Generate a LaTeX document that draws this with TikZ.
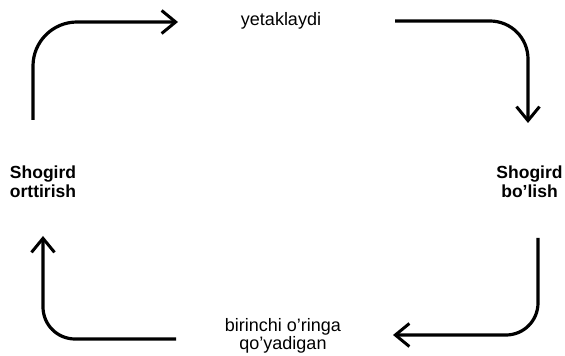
\documentclass[tikz,border=0pt]{standalone}
\usepackage{fontspec}
\setmainfont{Liberation Sans}
\usetikzlibrary{arrows.meta}
\begin{document}
\begin{tikzpicture}[x=1pt,y=1pt,
  lbl/.style={inner sep=0pt,align=center,font=\fontsize{18}{18.5}\selectfont},
  blbl/.style={inner sep=0pt,align=center,font=\fontsize{17.5}{19}\selectfont\bfseries},
  flow/.style={line width=3.2pt,rounded corners=#1,-{Straight Barb[length=14pt,width=23pt,line width=3pt]}},
  flow/.default=40pt]
\useasboundingbox (0,0) rectangle (565,356);
\node[lbl,anchor=base] (top) at (281,330) {yetaklaydi};
\node[blbl] (right) at (529.5,174) {Shogird\\bo’lish};
\node[blbl] (left) at (43,174) {Shogird\\orttirish};
\node[lbl] (bottom) at (283,20) {birinchi o’ringa\\qo’yadigan};
\coordinate (a1s) at (33,236);
\coordinate (a1c) at (33,334);
\coordinate (a1e) at (178,334);
\coordinate (a2s) at (395,335);
\coordinate (a2c) at (528,335);
\coordinate (a2e) at (528,233);
\coordinate (a3s) at (538,118);
\coordinate (a3c) at (538,21);
\coordinate (a3e) at (393,21);
\coordinate (a4s) at (176,17);
\coordinate (a4c) at (43,17);
\coordinate (a4e) at (43,120);
\draw[flow=44pt] (a1s) -- (a1c) -- (a1e);
\draw[flow=38pt] (a2s) -- (a2c) -- (a2e);
\draw[flow=32pt] (a3s) -- (a3c) -- (a3e);
\draw[flow=32pt] (a4s) -- (a4c) -- (a4e);
\end{tikzpicture}
\end{document}
